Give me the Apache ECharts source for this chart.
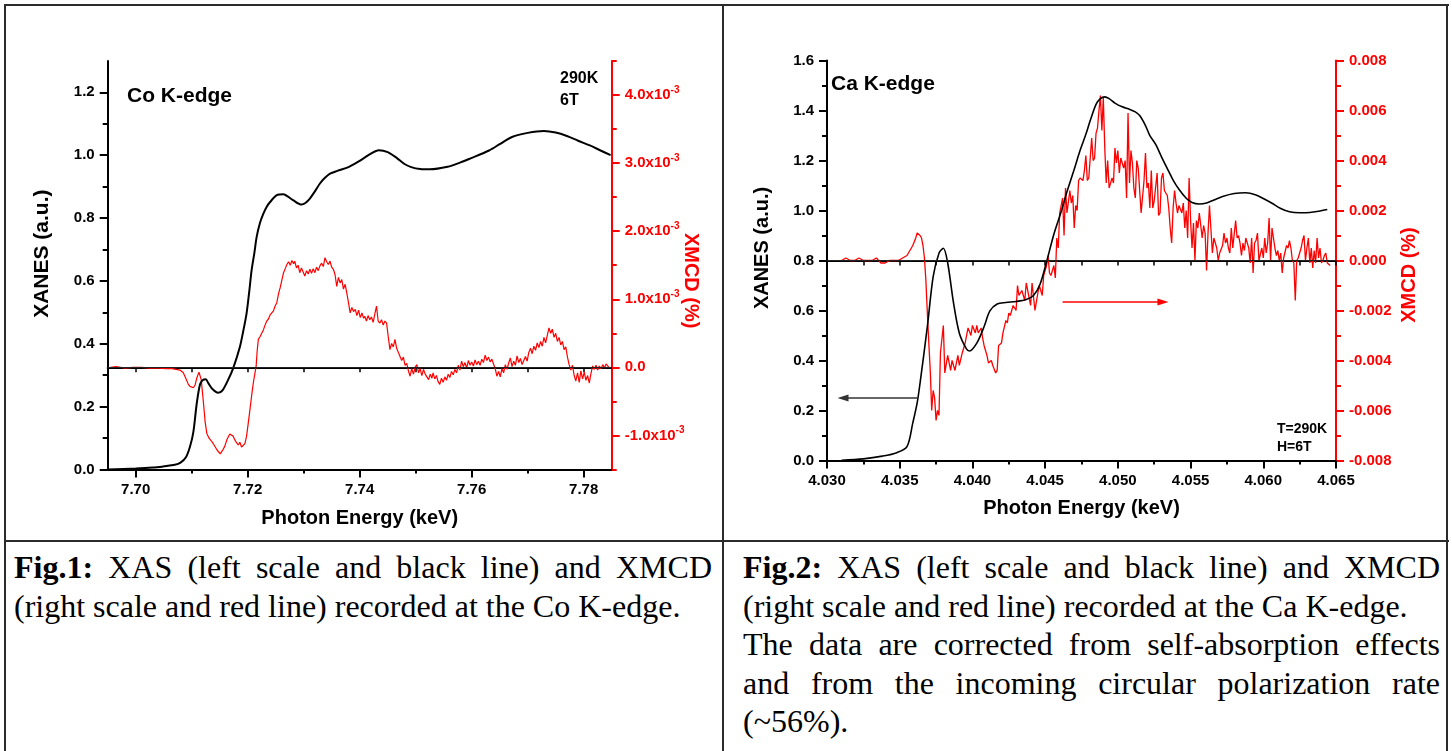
<!DOCTYPE html>
<html><head><meta charset="utf-8">
<script src="https://cdn.jsdelivr.net/npm/echarts@6/dist/echarts.min.js"></script>
<style>
html,body{margin:0;padding:0;background:#fff;width:1452px;height:751px;overflow:hidden;}
#chart{position:absolute;left:0;top:0;width:1452px;height:541px;}
.ln{position:absolute;background:#2b2b2b;}
.cap{position:absolute;font-family:'Liberation Serif','Times New Roman',serif;font-size:32px;line-height:38.5px;color:#000;}
.j{text-align:justify;text-align-last:justify;}
</style></head><body>
<div id="chart"></div>
<div class="ln" style="left:4px;top:4px;width:1445px;height:2px"></div>
<div class="ln" style="left:4px;top:540px;width:1445px;height:2px"></div>
<div class="ln" style="left:4px;top:4px;width:2px;height:747px"></div>
<div class="ln" style="left:722px;top:4px;width:2px;height:747px"></div>
<div class="ln" style="left:1446px;top:4px;width:2px;height:747px"></div>
<div class="cap" style="left:14px;top:548px;width:698px">
  <div class="j"><b>Fig.1:</b> XAS (left scale and black line) and XMCD</div>
  <div>(right scale and red line) recorded at the Co K-edge.</div>
</div>
<div class="cap" style="left:743px;top:548px;width:697px">
  <div class="j"><b>Fig.2:</b> XAS (left scale and black line) and XMCD</div>
  <div>(right scale and red line) recorded at the Ca K-edge.</div>
  <div class="j">The data are corrected from self-absorption effects</div>
  <div class="j">and from the incoming circular polarization rate</div>
  <div>(~56%).</div>
</div>
<script>
// ---------- Co K-edge (Fig.1) ----------
const coXMajor = [7.70, 7.72, 7.74, 7.76, 7.78];
const coXMinor = [7.71, 7.73, 7.75, 7.77];
const coYMajor = [0, 0.2, 0.4, 0.6, 0.8, 1.0, 1.2];
const coYMinor = [0.1, 0.3, 0.5, 0.7, 0.9, 1.1];
const coRMajor = [-1, 0, 1, 2, 3, 4];          // XMCD in units of 1e-3 %
const coRMinor = [-1.5, -0.5, 0.5, 1.5, 2.5, 3.5, 4.5];
const coXas = [[7.695,0.000],[7.700,0.003],[7.703,0.006],[7.705,0.010],[7.707,0.015],[7.708,0.022],[7.709,0.040],[7.7097,0.073],[7.7103,0.12],[7.7109,0.21],[7.7115,0.272],[7.712,0.285],[7.7125,0.287],[7.713,0.274],[7.7137,0.256],[7.7147,0.244],[7.7155,0.252],[7.7165,0.285],[7.7174,0.322],[7.7186,0.39],[7.7192,0.44],[7.7198,0.497],[7.7203,0.57],[7.7207,0.634],[7.7212,0.69],[7.7216,0.74],[7.7222,0.785],[7.7228,0.814],[7.7234,0.836],[7.724,0.851],[7.7252,0.873],[7.7264,0.876],[7.7272,0.868],[7.7281,0.857],[7.7296,0.843],[7.7303,0.848],[7.7311,0.862],[7.732,0.885],[7.7329,0.91],[7.7338,0.928],[7.7347,0.941],[7.736,0.95],[7.738,0.962],[7.740,0.982],[7.742,1.005],[7.7434,1.016],[7.745,1.01],[7.7467,0.99],[7.748,0.972],[7.7492,0.962],[7.7508,0.956],[7.7525,0.955],[7.7557,0.963],[7.758,0.977],[7.7598,0.99],[7.7631,1.015],[7.765,1.035],[7.7672,1.058],[7.770,1.071],[7.7729,1.077],[7.775,1.072],[7.777,1.061],[7.779,1.046],[7.7811,1.031],[7.783,1.015],[7.7848,1.0]];
const coXmcd = [[7.6955,0.00],[7.6965,0.01],[7.698,-0.01],[7.6995,0.00],[7.701,0.00],[7.7025,-0.01],[7.704,-0.01],[7.7055,-0.02],[7.7065,-0.02],[7.7072,-0.03],[7.7079,-0.04],[7.7085,-0.08],[7.709,-0.17],[7.7094,-0.25],[7.7097,-0.28],[7.7103,-0.30],[7.7106,-0.26],[7.7109,-0.16],[7.7113,-0.07],[7.7117,-0.18],[7.7121,-0.52],[7.7124,-0.80],[7.7127,-0.97],[7.7131,-1.04],[7.7136,-1.09],[7.714,-1.14],[7.7145,-1.21],[7.7151,-1.27],[7.7155,-1.22],[7.7159,-1.16],[7.7163,-1.06],[7.7168,-0.98],[7.7171,-0.99],[7.7174,-1.01],[7.7178,-1.08],[7.7183,-1.14],[7.7186,-1.10],[7.7189,-1.17],[7.7192,-1.19],[7.7195,-1.12],[7.7198,-1.01],[7.7201,-0.82],[7.7204,-0.62],[7.7207,-0.42],[7.721,-0.23],[7.7213,-0.08],[7.7215,0.01],[7.7217,0.25],[7.7219,0.41],[7.7222,0.45],[7.7225,0.50],[7.7228,0.55],[7.7231,0.62],[7.7234,0.68],[7.7237,0.71],[7.724,0.77],[7.7243,0.80],[7.7246,0.83],[7.7249,0.90],[7.7252,0.95],[7.7255,1.08],[7.7258,1.17],[7.7261,1.28],[7.7264,1.39],[7.7267,1.45],[7.727,1.51],[7.7273,1.55],[7.7276,1.50],[7.7279,1.57],[7.7282,1.52],[7.7284,1.56],[7.7287,1.46],[7.729,1.50],[7.7293,1.39],[7.7296,1.46],[7.7299,1.40],[7.7302,1.34],[7.7305,1.42],[7.7308,1.37],[7.7311,1.44],[7.7314,1.38],[7.7317,1.45],[7.732,1.39],[7.7323,1.47],[7.7326,1.42],[7.7329,1.49],[7.7332,1.53],[7.7335,1.48],[7.7338,1.61],[7.7341,1.55],[7.7344,1.51],[7.7347,1.56],[7.735,1.47],[7.7353,1.44],[7.7356,1.36],[7.7359,1.19],[7.7362,1.32],[7.7365,1.24],[7.7368,1.29],[7.7371,1.15],[7.7374,1.22],[7.7377,1.09],[7.738,0.95],[7.7383,0.80],[7.7386,0.88],[7.7389,0.82],[7.7392,0.85],[7.7395,0.76],[7.7398,0.84],[7.7401,0.73],[7.7404,0.80],[7.7407,0.72],[7.7409,0.75],[7.7412,0.68],[7.7415,0.76],[7.7418,0.70],[7.7421,0.74],[7.7424,0.66],[7.7427,0.78],[7.743,0.90],[7.7433,0.68],[7.7436,0.65],[7.7439,0.70],[7.7442,0.62],[7.7445,0.68],[7.7448,0.65],[7.7451,0.45],[7.7454,0.26],[7.7457,0.35],[7.746,0.30],[7.7463,0.41],[7.7466,0.28],[7.7469,0.22],[7.7472,0.16],[7.7475,0.10],[7.7478,0.15],[7.7481,0.03],[7.7484,0.06],[7.7487,-0.05],[7.749,-0.13],[7.7493,-0.02],[7.7496,-0.10],[7.7499,0.00],[7.7502,0.04],[7.7505,-0.08],[7.7508,-0.02],[7.7511,-0.12],[7.7514,-0.03],[7.7517,-0.10],[7.752,-0.14],[7.7523,-0.18],[7.7526,-0.10],[7.7529,-0.16],[7.7531,-0.08],[7.7534,-0.17],[7.7537,-0.12],[7.754,-0.21],[7.7543,-0.25],[7.7546,-0.16],[7.7549,-0.22],[7.7552,-0.14],[7.7555,-0.19],[7.7558,-0.10],[7.7561,-0.15],[7.7564,-0.06],[7.7567,-0.11],[7.757,-0.03],[7.7573,-0.08],[7.7576,0.03],[7.7579,-0.04],[7.7582,0.09],[7.7585,0.01],[7.7588,0.07],[7.7591,-0.01],[7.7594,0.10],[7.7597,0.03],[7.76,0.08],[7.7603,0.02],[7.7606,0.11],[7.7609,0.04],[7.7612,0.09],[7.7615,0.03],[7.7618,0.12],[7.7621,0.07],[7.7624,0.18],[7.7627,0.10],[7.763,0.15],[7.7633,0.08],[7.7636,0.12],[7.7639,0.05],[7.7642,-0.02],[7.7645,-0.13],[7.7648,-0.06],[7.7651,-0.14],[7.7654,-0.02],[7.7657,-0.08],[7.766,0.04],[7.7663,-0.03],[7.7666,0.06],[7.7669,0.14],[7.7672,0.01],[7.7675,0.09],[7.7678,0.03],[7.7681,0.17],[7.7684,0.07],[7.7687,0.13],[7.769,0.04],[7.7693,0.10],[7.7696,0.16],[7.7699,0.09],[7.7702,0.22],[7.7705,0.28],[7.7708,0.20],[7.7711,0.31],[7.7714,0.25],[7.7717,0.36],[7.772,0.29],[7.7723,0.38],[7.7726,0.31],[7.7729,0.44],[7.7732,0.36],[7.7735,0.47],[7.7738,0.58],[7.7741,0.50],[7.7744,0.56],[7.7747,0.44],[7.775,0.50],[7.7753,0.38],[7.7756,0.44],[7.7759,0.33],[7.7762,0.38],[7.7765,0.26],[7.7768,0.30],[7.7771,0.15],[7.7774,0.04],[7.7777,-0.04],[7.778,0.03],[7.7783,-0.12],[7.7786,-0.20],[7.7789,-0.08],[7.7792,-0.22],[7.7795,-0.05],[7.7798,-0.17],[7.7801,-0.07],[7.7804,-0.19],[7.7807,-0.12],[7.781,-0.23],[7.7813,-0.09],[7.7816,0.02],[7.7819,-0.03],[7.7822,0.03],[7.7825,-0.04],[7.7828,0.02],[7.7831,-0.02],[7.7834,0.04],[7.7837,-0.01],[7.784,0.05],[7.7845,0.00]];

// ---------- Ca K-edge (Fig.2) ----------
const caXas = [[4.0310,0.000],[4.0325,0.006],[4.0338,0.017],[4.0348,0.031],[4.0355,0.055],[4.0359,0.15],[4.0362,0.23],[4.0364,0.31],[4.0369,0.535],[4.0373,0.735],[4.0377,0.829],[4.0380,0.849],[4.0383,0.79],[4.0387,0.63],[4.0391,0.509],[4.0396,0.445],[4.0398,0.438],[4.0403,0.469],[4.0408,0.535],[4.0412,0.598],[4.0417,0.626],[4.0423,0.632],[4.0430,0.636],[4.0437,0.644],[4.0442,0.66],[4.04465,0.705],[4.0451,0.795],[4.0456,0.905],[4.0461,0.995],[4.0465,1.075],[4.0470,1.165],[4.0474,1.24],[4.0478,1.305],[4.0481,1.36],[4.0485,1.425],[4.0488,1.448],[4.0491,1.455],[4.0494,1.448],[4.0498,1.43],[4.0503,1.415],[4.0508,1.405],[4.0512,1.395],[4.0515,1.38],[4.0519,1.34],[4.0522,1.30],[4.0526,1.265],[4.0530,1.215],[4.0534,1.168],[4.0538,1.122],[4.0542,1.085],[4.0547,1.049],[4.0551,1.032],[4.0556,1.026],[4.0561,1.030],[4.0566,1.042],[4.0572,1.056],[4.0580,1.068],[4.0588,1.071],[4.0595,1.062],[4.0600,1.048],[4.0606,1.029],[4.0612,1.008],[4.0618,0.995],[4.0625,0.991],[4.0632,0.992],[4.0638,0.997],[4.0644,1.004]];
const caXmcd = [[4.0310,0.0000],[4.0313,0.0001],[4.0316,0.0000],[4.0319,0.0000],[4.0322,0.0001],[4.0325,0.0000],[4.0328,0.0000],[4.0331,0.0000],[4.0334,0.0001],[4.0337,-0.0001],[4.034,-0.0001],[4.0343,0.0000],[4.0346,0.0000],[4.0349,0.0000],[4.0352,0.0001],[4.0355,0.0002],[4.0357,0.0004],[4.0359,0.0006],[4.0361,0.0009],[4.0362,0.0011],[4.0364,0.0010],[4.0365,0.0009],[4.0366,0.0006],[4.0367,0.0001],[4.0368,-0.0008],[4.0369,-0.0021],[4.037,-0.0033],[4.0371,-0.0044],[4.0372,-0.0060],[4.0373,-0.0052],[4.0374,-0.0055],[4.0375,-0.0064],[4.0376,-0.0060],[4.0377,-0.0062],[4.0378,-0.0037],[4.038,-0.0026],[4.0381,-0.0045],[4.0383,-0.0038],[4.0385,-0.0044],[4.0386,-0.0040],[4.0388,-0.0044],[4.039,-0.0038],[4.0391,-0.0042],[4.0393,-0.0037],[4.0395,-0.0033],[4.0397,-0.0027],[4.0399,-0.0030],[4.04,-0.0026],[4.0402,-0.0029],[4.0403,-0.0026],[4.0404,-0.0029],[4.0406,-0.0027],[4.0407,-0.0031],[4.0408,-0.0034],[4.041,-0.0038],[4.0411,-0.0041],[4.0413,-0.0040],[4.0414,-0.0042],[4.0416,-0.0045],[4.0417,-0.0044],[4.0418,-0.0034],[4.042,-0.0033],[4.0421,-0.0029],[4.0423,-0.0024],[4.0424,-0.0025],[4.0425,-0.0021],[4.0426,-0.0022],[4.0428,-0.0018],[4.043,-0.0020],[4.0431,-0.0010],[4.0432,-0.0014],[4.0434,-0.0012],[4.0436,-0.0016],[4.0437,-0.0009],[4.0438,-0.0012],[4.044,-0.0018],[4.0441,-0.0009],[4.0443,-0.0020],[4.0445,-0.0013],[4.0446,-0.0010],[4.0448,-0.0014],[4.0449,-0.0006],[4.0451,-0.0002],[4.0452,0.0002],[4.0453,-0.0005],[4.0454,-0.0006],[4.0456,-0.0002],[4.0457,-0.0007],[4.0458,0.0009],[4.0459,0.0005],[4.046,0.0019],[4.0462,0.0025],[4.0463,0.0010],[4.0464,0.0029],[4.0465,0.0019],[4.0467,0.0028],[4.0468,0.0023],[4.0469,0.0026],[4.047,0.0013],[4.0471,0.0022],[4.0472,0.0020],[4.0473,0.0032],[4.0474,0.0033],[4.0476,0.0032],[4.0477,0.0036],[4.0478,0.0042],[4.0479,0.0032],[4.048,0.0033],[4.0482,0.0049],[4.0483,0.0040],[4.0484,0.0041],[4.0485,0.0051],[4.0486,0.0053],[4.0487,0.0060],[4.0488,0.0066],[4.0489,0.0052],[4.049,0.0065],[4.0491,0.0045],[4.0492,0.0031],[4.0493,0.0040],[4.0494,0.0029],[4.0496,0.0033],[4.0497,0.0031],[4.0498,0.0045],[4.0499,0.0039],[4.05,0.0044],[4.0501,0.0035],[4.0502,0.0041],[4.0504,0.0037],[4.0505,0.0040],[4.0506,0.0025],[4.0507,0.0059],[4.0508,0.0031],[4.0509,0.0044],[4.051,0.0039],[4.0511,0.0029],[4.0512,0.0025],[4.0513,0.0040],[4.0514,0.0037],[4.0515,0.0028],[4.0516,0.0019],[4.0518,0.0032],[4.0519,0.0043],[4.052,0.0029],[4.0521,0.0031],[4.0522,0.0021],[4.0523,0.0036],[4.0524,0.0021],[4.0525,0.0024],[4.0527,0.0035],[4.0528,0.0018],[4.0529,0.0019],[4.053,0.0033],[4.0531,0.0035],[4.0532,0.0028],[4.0534,0.0026],[4.0535,0.0021],[4.0536,0.0013],[4.0537,0.0007],[4.0538,0.0021],[4.0539,0.0028],[4.054,0.0023],[4.0541,0.0019],[4.0542,0.0022],[4.0544,0.0019],[4.0545,0.0023],[4.0546,0.0013],[4.0547,0.0020],[4.0548,0.0009],[4.0549,0.0033],[4.055,0.0016],[4.0551,0.0005],[4.0552,0.0015],[4.0553,0.0000],[4.0554,0.0016],[4.0555,0.0013],[4.0556,0.0019],[4.0558,0.0009],[4.0559,0.0014],[4.056,0.0011],[4.0561,-0.0004],[4.0562,0.0011],[4.0563,0.0022],[4.0565,0.0003],[4.0566,0.0009],[4.0567,0.0007],[4.0568,0.0005],[4.0569,0.0000],[4.057,0.0003],[4.0572,0.0006],[4.0573,0.0011],[4.0574,0.0007],[4.0575,0.0009],[4.0576,0.0005],[4.0577,0.0003],[4.0578,0.0013],[4.0579,0.0005],[4.0581,0.0016],[4.0582,0.0009],[4.0583,0.0010],[4.0584,0.0007],[4.0585,0.0002],[4.0586,0.0007],[4.0587,0.0004],[4.0588,0.0009],[4.059,0.0005],[4.0591,-0.0001],[4.0592,0.0009],[4.0593,-0.0005],[4.0594,0.0007],[4.0595,0.0008],[4.0596,0.0011],[4.0597,0.0000],[4.0599,0.0005],[4.06,0.0001],[4.0601,0.0009],[4.0602,0.0003],[4.0603,0.0007],[4.0604,0.0017],[4.0605,0.0000],[4.0606,0.0013],[4.0608,0.0005],[4.0609,0.0002],[4.061,0.0004],[4.0611,0.0000],[4.0612,0.0003],[4.0613,-0.0005],[4.0614,0.0001],[4.0616,0.0006],[4.0617,0.0005],[4.0618,0.0008],[4.0619,0.0005],[4.062,0.0000],[4.0621,-0.0001],[4.0622,-0.0016],[4.0623,0.0000],[4.0624,0.0001],[4.0626,0.0005],[4.0627,0.0008],[4.0628,0.0010],[4.0629,0.0000],[4.063,0.0005],[4.0631,0.0009],[4.0632,-0.0001],[4.0633,0.0005],[4.0634,-0.0003],[4.0635,0.0004],[4.0636,-0.0001],[4.0637,0.0009],[4.0638,0.0001],[4.0639,0.0005],[4.064,-0.0001],[4.0641,0.0000],[4.0642,0.0002],[4.0643,0.0003],[4.0644,-0.0001],[4.0646,-0.0002]];
const caArrowXas = [[4.0362, 0.25], [4.0311, 0.25]];
const caArrowXmcd = [[4.0462, -0.00166], [4.0531, -0.00166]];

const FONT = '"Liberation Sans", Arial, Helvetica, sans-serif';
const tickFont = (c) => ({fontFamily: FONT, fontWeight: 'bold', fontSize: 15, color: c});
const nameFont = (c, pad, size) => ({fontFamily: FONT, fontWeight: 'bold', fontSize: size || 20, color: c, padding: pad});
const noSplit = {show: false};
const zeroLine = {silent: true, symbol: ['none', 'none'], label: {show: false},
  lineStyle: {color: '#222', width: 1, type: 'solid'}, data: [{yAxis: 0}]};

const chart = echarts.init(document.getElementById('chart'), null, {renderer: 'canvas'});
const option = {
  animation: false,
  backgroundColor: 'transparent',
  grid: [
    {left: 107.7, top: 60.9, width: 504, height: 408.6, containLabel: false, outerBoundsMode: 'none'},
    {left: 827, top: 60.6, width: 509, height: 399.8, containLabel: false, outerBoundsMode: 'none'}
  ],
  xAxis: [
    {gridIndex: 0, type: 'value', position: 'bottom', min: 7.695, max: 7.785,
     axisLine: {show: true, lineStyle: {color: '#000', width: 2}},
     axisTick: {show: true, customValues: coXMajor, length: 8, lineStyle: {color: '#000', width: 2}},
     axisLabel: Object.assign({customValues: coXMajor, margin: 13, formatter: v => v.toFixed(2)}, tickFont('#000')),
     splitLine: noSplit,
     name: 'Photon Energy (keV)', nameLocation: 'middle', nameGap: 39, nameMoveOverlap: false,
     nameTextStyle: nameFont('#000', 0)},
    {gridIndex: 0, type: 'value', position: 'bottom', min: 7.695, max: 7.785,
     axisLine: {show: false}, axisLabel: {show: false}, splitLine: noSplit,
     axisTick: {show: true, customValues: coXMinor, length: 4, lineStyle: {color: '#000', width: 2}}},
    {gridIndex: 0, type: 'value', position: 'top', min: 7.695, max: 7.785,
     axisLine: {show: true, lineStyle: {color: '#000', width: 2}}, axisLabel: {show: false}, splitLine: noSplit,
     axisTick: {show: true, inside: true, customValues: coXMajor.concat(coXMinor), length: 5, lineStyle: {color: '#000', width: 1.5}}},
    {gridIndex: 1, type: 'value', position: 'bottom', min: 4.030, max: 4.065, interval: 0.005,
     axisLine: {show: true, lineStyle: {color: '#000', width: 2}},
     axisTick: {show: true, length: 8, lineStyle: {color: '#000', width: 2}},
     minorTick: {show: true, splitNumber: 2, length: 4, lineStyle: {color: '#000', width: 2}},
     axisLabel: Object.assign({margin: 13, formatter: v => v.toFixed(3)}, tickFont('#000')),
     splitLine: noSplit, minorSplitLine: noSplit,
     name: 'Photon Energy (keV)', nameLocation: 'middle', nameGap: 38, nameMoveOverlap: false,
     nameTextStyle: nameFont('#000', 0)},
    {gridIndex: 1, type: 'value', position: 'top', min: 4.030, max: 4.065, interval: 0.005,
     axisLine: {show: true, lineStyle: {color: '#000', width: 2}}, axisLabel: {show: false},
     axisTick: {show: true, inside: true, length: 5, lineStyle: {color: '#000', width: 1.5}},
     minorTick: {show: true, splitNumber: 2, length: 5, lineStyle: {color: '#000', width: 1.5}},
     splitLine: noSplit, minorSplitLine: noSplit}
  ],
  yAxis: [
    {gridIndex: 0, type: 'value', position: 'left', min: 0, max: 1.3,
     axisLine: {show: true, lineStyle: {color: '#000', width: 2}},
     axisTick: {show: true, customValues: coYMajor, length: 8, lineStyle: {color: '#000', width: 2}},
     axisLabel: Object.assign({customValues: coYMajor, margin: 13, formatter: v => v.toFixed(1)}, tickFont('#000')),
     splitLine: noSplit,
     name: 'XANES (a.u.)', nameLocation: 'middle', nameRotate: 90, nameGap: 55, nameMoveOverlap: false,
     nameTextStyle: nameFont('#000', [0, 0, 0, 23], 21)},
    {gridIndex: 0, type: 'value', position: 'left', min: 0, max: 1.3,
     axisLine: {show: false}, axisLabel: {show: false}, splitLine: noSplit,
     axisTick: {show: true, customValues: coYMinor, length: 5, lineStyle: {color: '#000', width: 2}}},
    {gridIndex: 0, type: 'value', position: 'right', min: -1.5, max: 4.5,
     axisLine: {show: true, lineStyle: {color: '#ff0000', width: 2}},
     axisTick: {show: true, customValues: coRMajor, length: 8, lineStyle: {color: '#ff0000', width: 2}},
     axisLabel: Object.assign({customValues: coRMajor, margin: 13,
       formatter: v => Math.abs(v) < 1e-9 ? '0.0' : '{m|' + v.toFixed(1) + 'x10}{e|-3}',
       rich: {m: {fontFamily: FONT, fontWeight: 'bold', fontSize: 15, color: '#ff0000', lineHeight: 20},
              e: {fontFamily: FONT, fontWeight: 'bold', fontSize: 10, color: '#ff0000', lineHeight: 20, verticalAlign: 'top'}}},
       tickFont('#ff0000')),
     splitLine: noSplit,
     name: 'XMCD (%)', nameLocation: 'middle', nameRotate: -90, nameGap: 69, nameMoveOverlap: false,
     nameTextStyle: nameFont('#ff0000', [0, 0, 0, 31])},
    {gridIndex: 0, type: 'value', position: 'right', min: -1.5, max: 4.5,
     axisLine: {show: false}, axisLabel: {show: false}, splitLine: noSplit,
     axisTick: {show: true, customValues: coRMinor, length: 5, lineStyle: {color: '#ff0000', width: 2}}},
    {gridIndex: 1, type: 'value', position: 'left', min: 0, max: 1.6, interval: 0.2,
     axisLine: {show: true, lineStyle: {color: '#000', width: 2}},
     axisTick: {show: true, length: 8, lineStyle: {color: '#000', width: 2}},
     minorTick: {show: true, splitNumber: 2, length: 5, lineStyle: {color: '#000', width: 2}},
     axisLabel: Object.assign({margin: 13, formatter: v => v.toFixed(1)}, tickFont('#000')),
     splitLine: noSplit, minorSplitLine: noSplit,
     name: 'XANES (a.u.)', nameLocation: 'middle', nameRotate: 90, nameGap: 55, nameMoveOverlap: false,
     nameTextStyle: nameFont('#000', [0, 0, 0, 25])},
    {gridIndex: 1, type: 'value', position: 'right', min: -0.008, max: 0.008, interval: 0.002,
     axisLine: {show: true, lineStyle: {color: '#ff0000', width: 2}},
     axisTick: {show: true, length: 8, lineStyle: {color: '#ff0000', width: 2}},
     minorTick: {show: true, splitNumber: 2, length: 5, lineStyle: {color: '#ff0000', width: 2}},
     axisLabel: Object.assign({margin: 13, formatter: v => v.toFixed(3)}, tickFont('#ff0000')),
     splitLine: noSplit, minorSplitLine: noSplit,
     name: 'XMCD (%)', nameLocation: 'middle', nameRotate: 90, nameGap: 63, nameMoveOverlap: false,
     nameTextStyle: nameFont('#ff0000', [0, 29, 0, 0])}
  ],
  graphic: [
    {type: 'text', x: 127, y: 96, silent: true, style: {text: 'Co K-edge', fontFamily: FONT, fontWeight: 'bold', fontSize: 21, fill: '#000', align: 'left', verticalAlign: 'middle'}},
    {type: 'text', x: 560, y: 79, silent: true, style: {text: '290K', fontFamily: FONT, fontWeight: 'bold', fontSize: 16, fill: '#000', align: 'left', verticalAlign: 'middle'}},
    {type: 'text', x: 560, y: 101, silent: true, style: {text: '6T', fontFamily: FONT, fontWeight: 'bold', fontSize: 16, fill: '#000', align: 'left', verticalAlign: 'middle'}},
    {type: 'text', x: 831, y: 84, silent: true, style: {text: 'Ca K-edge', fontFamily: FONT, fontWeight: 'bold', fontSize: 21, fill: '#000', align: 'left', verticalAlign: 'middle'}},
    {type: 'text', x: 1277, y: 429, silent: true, style: {text: 'T=290K', fontFamily: FONT, fontWeight: 'bold', fontSize: 14, fill: '#000', align: 'left', verticalAlign: 'middle'}},
    {type: 'text', x: 1277, y: 447, silent: true, style: {text: 'H=6T', fontFamily: FONT, fontWeight: 'bold', fontSize: 14, fill: '#000', align: 'left', verticalAlign: 'middle'}}
  ],
  series: [
    {type: 'line', name: 'Co XMCD', xAxisIndex: 0, yAxisIndex: 2, data: coXmcd, symbol: 'none', z: 2,
     lineStyle: {color: '#ff0000', width: 1.2}, markLine: zeroLine},
    {type: 'line', name: 'Co XANES', xAxisIndex: 0, yAxisIndex: 0, data: coXas, symbol: 'none', smooth: 0.3, z: 3,
     lineStyle: {color: '#000', width: 2}},
    {type: 'line', name: 'Ca XMCD', xAxisIndex: 3, yAxisIndex: 5, data: caXmcd, symbol: 'none', z: 2,
     lineStyle: {color: '#ff0000', width: 1.3}, markLine: zeroLine},
    {type: 'line', name: 'Ca XANES', xAxisIndex: 3, yAxisIndex: 4, data: caXas, symbol: 'none', smooth: 0.3, z: 3,
     lineStyle: {color: '#000', width: 1.6}},
    {type: 'line', name: 'arrow XAS', xAxisIndex: 3, yAxisIndex: 4, z: 4, silent: true,
     data: [{value: caArrowXas[0], symbol: 'none'}, {value: caArrowXas[1], symbol: 'triangle', symbolSize: [7, 11], symbolRotate: 90}],
     lineStyle: {color: '#333', width: 1.5}, itemStyle: {color: '#333'}},
    {type: 'line', name: 'arrow XMCD', xAxisIndex: 3, yAxisIndex: 5, z: 4, silent: true,
     data: [{value: caArrowXmcd[0], symbol: 'none'}, {value: caArrowXmcd[1], symbol: 'triangle', symbolSize: [7, 11], symbolRotate: -90}],
     lineStyle: {color: '#ff0000', width: 1.5}, itemStyle: {color: '#ff0000'}}
  ]
};
chart.setOption(option);
</script>
</body></html>
